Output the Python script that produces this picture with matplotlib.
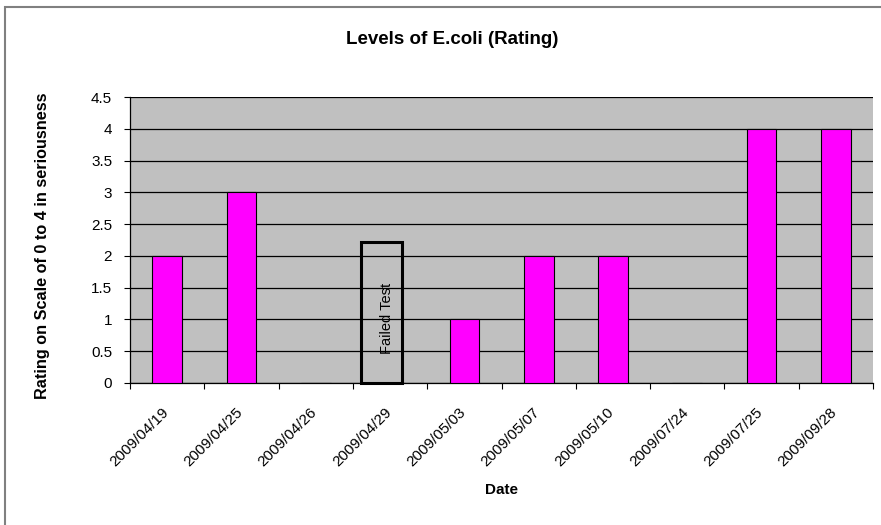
import matplotlib
matplotlib.use("Agg")
import matplotlib.pyplot as plt
from matplotlib.patches import Rectangle
from matplotlib.transforms import ScaledTranslation

plt.rcParams['font.family'] = ['Liberation Sans', 'DejaVu Sans']

dates = ["2009/04/19", "2009/04/25", "2009/04/26", "2009/04/29", "2009/05/03",
         "2009/05/07", "2009/05/10", "2009/07/24", "2009/07/25", "2009/09/28"]
ratings = [2, 3, 0, 0, 1, 2, 2, 0, 4, 4]
failed_index = 3
failed_box_top = 2.22
y_ticks = [0, 0.5, 1, 1.5, 2, 2.5, 3, 3.5, 4, 4.5]

fig = plt.figure(figsize=(8.81, 5.25), dpi=100)
ax = fig.add_axes([0.1476, 0.2705, 0.8434, 0.5447])
ax.set_facecolor("#C0C0C0")

x = list(range(len(dates)))
ax.bar(x, ratings, width=0.4, color="#FF00FF", edgecolor="black", linewidth=0.8, zorder=3)

ax.set_xlim(-0.5, len(dates) - 0.5)
ax.set_ylim(0, 4.5)
ax.set_yticks(y_ticks)
ax.set_yticklabels([f"{v:g}" for v in y_ticks], fontsize=11)
ax.yaxis.grid(True, color="black", linewidth=0.9, zorder=1)
ax.set_axisbelow(True)

# category boundary ticks on x axis, labels centred in each category
ax.set_xticks([i - 0.5 for i in range(len(dates) + 1)])
ax.set_xticklabels([])
ax.set_xticks(x, minor=True)
ax.set_xticklabels(dates, minor=True, rotation=45, ha="right", va="top",
                   rotation_mode="anchor", fontsize=11)
ax.tick_params(axis="x", which="minor", length=0, pad=10)
ax.tick_params(axis="x", which="major", length=4.3, width=0.8, direction="out")
ax.tick_params(axis="y", length=4.3, width=0.8, direction="out", pad=8.6)

shift = ScaledTranslation(-0.06, -0.08, fig.dpi_scale_trans)
for lbl in ax.get_xticklabels(minor=True):
    lbl.set_transform(lbl.get_transform() + shift)

for side in ["top", "right"]:
    ax.spines[side].set_visible(False)
for side in ["left", "bottom"]:
    ax.spines[side].set_color("black")
    ax.spines[side].set_linewidth(0.9)

# outlined marker for the failed test
ax.add_patch(Rectangle((failed_index - 0.39, 0), 0.55, failed_box_top,
                       fill=False, edgecolor="black", linewidth=2.2, zorder=4, clip_on=False))
ax.text(failed_index - 0.04, 1.02, "Failed Test", rotation=90, ha="center", va="center",
        fontsize=10.5, zorder=5)

ax.set_xlabel("Date", fontsize=11, fontweight="bold")
ax.xaxis.set_label_coords(0.5, -0.35)
ax.set_ylabel("Rating on Scale of 0 to 4 in seriousness", fontsize=11.7, fontweight="bold")
ax.yaxis.set_label_coords(-0.108, 0.479)

fig.text(452 / 881, 1 - 40 / 525, "Levels of E.coli (Rating)", ha="center", va="center",
         fontsize=13.5, fontweight="bold")

# chart area frame
fig.patches.append(Rectangle((4.5 / 881, -0.1), 1.2, (525 - 7.5) / 525 + 0.1,
                             transform=fig.transFigure, fill=False,
                             edgecolor="#808080", linewidth=1.5))

fig.savefig("out.png", dpi=100)
